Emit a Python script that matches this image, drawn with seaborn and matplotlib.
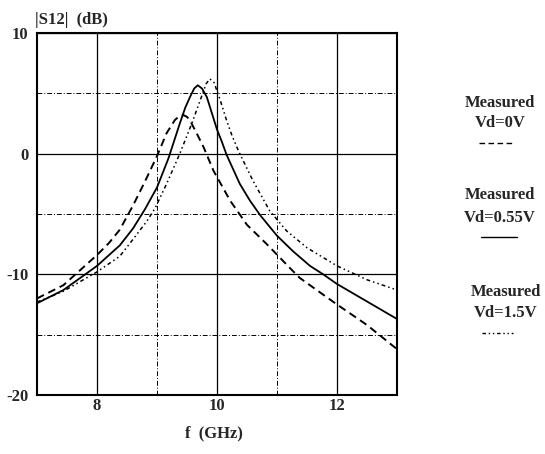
import numpy as np
import matplotlib
matplotlib.use("Agg")
import matplotlib.pyplot as plt
from matplotlib.lines import Line2D
import seaborn as sns

# |S12| readings (dB) versus frequency (GHz)
freq_vd0 = [7.0, 7.44, 8.0, 8.2, 8.38, 8.6, 8.8, 9.0, 9.16, 9.3, 9.37, 9.44, 9.5,
            9.55, 9.65, 9.78, 9.94, 10.22, 10.5, 10.83, 11.22, 11.38, 12.0, 12.5, 13.0]
s12_vd0 = [-12.0, -10.9, -8.4, -7.4, -6.3, -4.3, -2.3, -0.2, 1.7, 2.8, 3.1, 3.2, 3.05,
           2.75, 1.8, 0.5, -1.4, -3.9, -5.9, -7.5, -9.5, -10.3, -12.5, -14.2, -16.2]

freq_vd055 = [7.0, 7.44, 8.0, 8.38, 8.6, 8.8, 9.0, 9.19, 9.38, 9.47, 9.55, 9.62, 9.68,
              9.75, 9.83, 10.0, 10.08, 10.16, 10.38, 10.55, 10.72, 11.0, 11.27, 11.55,
              11.77, 12.0, 12.5, 13.0]
s12_vd055 = [-12.4, -11.3, -9.3, -7.6, -6.2, -4.6, -2.8, -0.4, 2.5, 3.8, 4.7, 5.4, 5.67,
             5.4, 4.7, 2.0, 1.0, -0.1, -2.5, -3.9, -5.1, -6.8, -8.1, -9.3,
             -10.0, -10.8, -12.25, -13.7]

freq_vd15 = [7.0, 7.44, 8.0, 8.38, 8.6, 8.83, 8.97, 9.16, 9.38, 9.58, 9.74, 9.82, 9.88,
             9.95, 10.05, 10.16, 10.25, 10.36, 10.6, 10.88, 11.16, 11.5, 12.0, 12.5, 13.0]
s12_vd15 = [-12.3, -11.4, -9.8, -8.5, -7.1, -5.6, -4.5, -2.5, 0.0, 2.5, 4.7, 5.8, 6.2,
            5.9, 4.5, 2.75, 1.5, 0.2, -2.25, -4.75, -6.4, -7.8, -9.3, -10.45, -11.3]

x_ticks = [8, 10, 12]
y_ticks = [10, 0, -10, -20]
x_minor = [9, 11]
y_minor = [5, -5, -15]

legend_items = [("Measured", "Vd=0V"), ("Measured", "Vd=0.55V"), ("Measured", "Vd=1.5V")]

sns.set_style("white")
plt.rcParams["font.family"] = ["Liberation Serif", "DejaVu Serif"]
plt.rcParams["axes.unicode_minus"] = False

fig = plt.figure(figsize=(5.45, 4.54), dpi=100)
ax = fig.add_axes([37 / 545, 1 - 395 / 454, 360 / 545, 362 / 454])

dash_0v = (0, (4, 2.5))
dash_15v = (0, (2.5, 2, 1, 2, 1, 2))

sns.lineplot(x=freq_vd0, y=s12_vd0, ax=ax, color="black", lw=1.4, linestyle=dash_0v)
sns.lineplot(x=freq_vd055, y=s12_vd055, ax=ax, color="black", lw=1.3)
sns.lineplot(x=freq_vd15, y=s12_vd15, ax=ax, color="black", lw=1.1, linestyle=dash_15v)

ax.set_xlim(7, 13)
ax.set_ylim(-20, 10)
ax.set_xticks(x_ticks)
ax.set_yticks(y_ticks)
ax.set_xticks(x_minor, minor=True)
ax.set_yticks(y_minor, minor=True)
ax.grid(which="major", color="black", lw=0.9, ls="-")
ax.grid(which="minor", color="black", lw=0.7, ls=(0, (5, 2, 1, 2)))
ax.set_axisbelow(True)
ax.tick_params(which="both", length=0)
ax.tick_params(axis="x", pad=2, labelsize=12)
ax.tick_params(axis="y", pad=6, labelsize=12)
for lab in ax.get_xticklabels() + ax.get_yticklabels():
    lab.set_fontweight("bold")
for sp in ax.spines.values():
    sp.set_color("black")
    sp.set_linewidth(1.5)
ax.set_xlabel("")
ax.set_ylabel("")

fig.text(35 / 545, 1 - 20 / 454, "|S12|  (dB)", fontsize=12, fontweight="bold",
         ha="left", va="center")
fig.text(214 / 545, 1 - 433 / 454, "f  (GHz)", fontsize=12, fontweight="bold",
         ha="center", va="center")

# hand-made legend: two lines of text above a short line sample
legend_styles = [dash_0v, "-", dash_15v]
legend_pos = [(500, 103, 123, 143, 479, 514),
              (500, 195, 218, 237, 481, 517),
              (506, 292, 313, 333, 482, 513)]
for (top, bottom), style, (cx, y1, y2, y3, x0, x1) in zip(legend_items, legend_styles, legend_pos):
    fig.text(cx / 545, 1 - y1 / 454, top, fontsize=12, fontweight="bold",
             ha="center", va="center")
    fig.text(cx / 545, 1 - y2 / 454, bottom, fontsize=12, fontweight="bold",
             ha="center", va="center")
    fig.add_artist(Line2D([x0 / 545, x1 / 545], [1 - y3 / 454, 1 - y3 / 454],
                          transform=fig.transFigure, color="black", lw=1.0,
                          linestyle=style))

fig.savefig("out.png", dpi=100)
